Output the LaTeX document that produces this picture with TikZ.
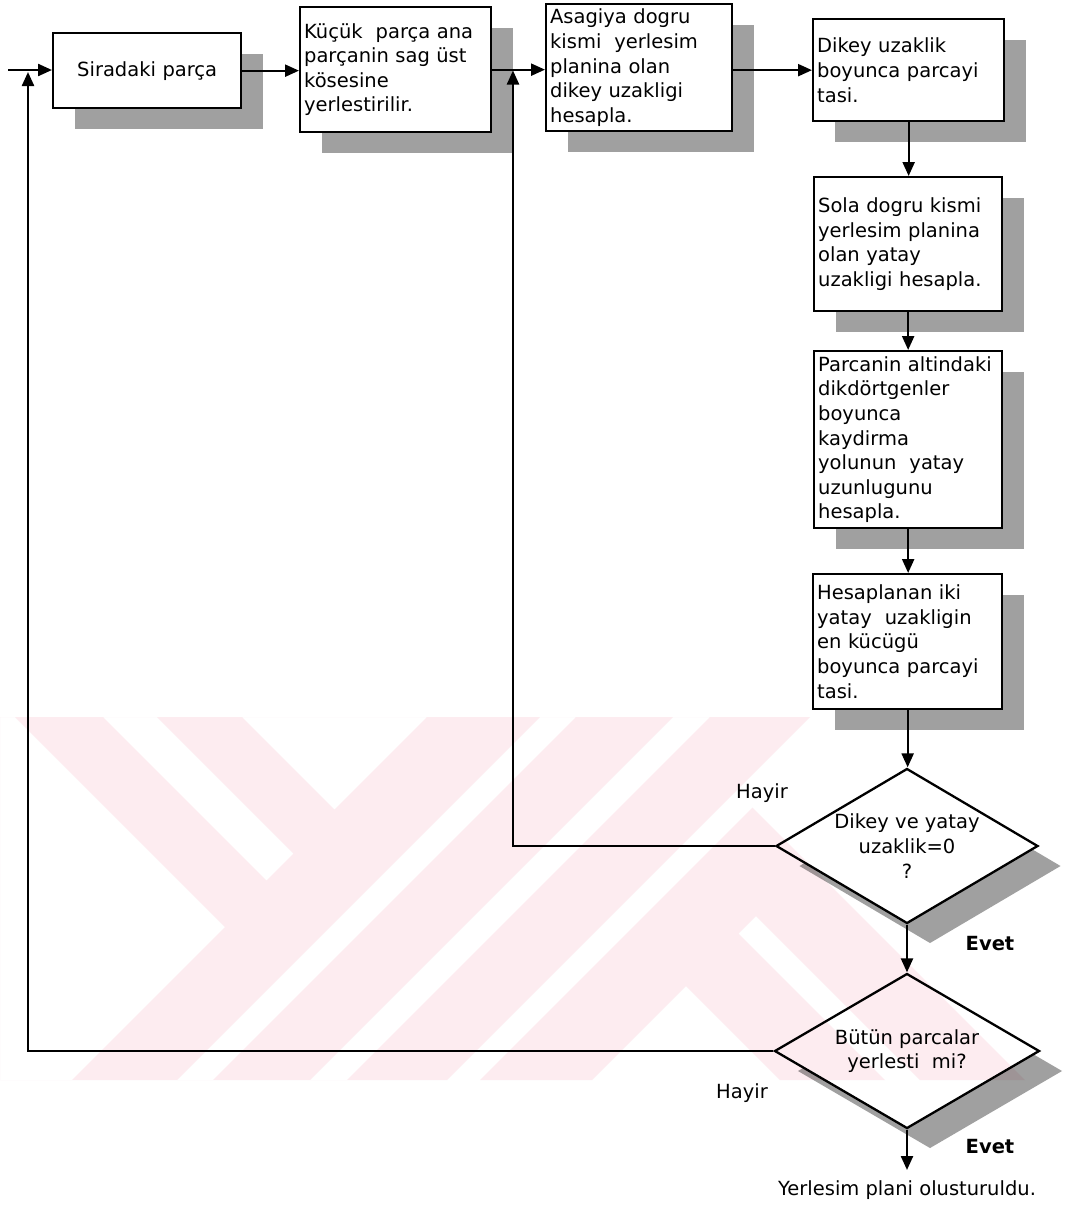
\documentclass[tikz,border=0pt]{standalone}
\usepackage{fontspec}
\setmainfont{DejaVu Sans}
\usetikzlibrary{arrows.meta,shapes.geometric,shadows,calc}
\definecolor{wmpink}{RGB}{253,236,240}
\definecolor{shadowgray}{RGB}{160,160,160}
\newcommand{\flowfont}{\fontsize{19.5}{24.6}\selectfont}
\begin{document}
\begin{tikzpicture}[x=1pt,y=-1pt,
  conn/.style={line width=2.3pt,-{Triangle[length=14pt,width=12pt]}},
  stepbox/.style={draw,line width=2.3pt,fill=white,font=\flowfont,align=left,
    inner xsep=4pt,inner ysep=0pt,anchor=north west,
    drop shadow={shadow xshift=22pt,shadow yshift=-21pt,fill=shadowgray,opacity=1}},
  decision/.style={diamond,draw,line width=2.3pt,fill=white,font=\flowfont,
    align=center,inner sep=0pt,aspect=1.69,
    drop shadow={shadow xshift=23pt,shadow yshift=-20pt,fill=shadowgray,opacity=1}},
  lbl/.style={font=\flowfont,inner sep=0pt}]

\useasboundingbox (0,0) rectangle (1065,1208);
\fill[white] (0,0) rectangle (1065,1208);

% process steps
\node[stepbox,text width=180pt,minimum height=75pt,align=center] (b1) at (52,32) {Siradaki parça};
\node[stepbox,text width=183pt,minimum height=125pt] (b2) at (299,6)
  {Küçük\ \ parça ana\\parçanin sag üst\\kösesine\\yerlestirilir.};
\node[stepbox,text width=178pt,minimum height=127pt] (b3) at (545,3)
  {Asagiya dogru\\kismi\ \ yerlesim\\planina olan\\dikey uzakligi\\hesapla.};
\node[stepbox,text width=183pt,minimum height=102pt] (b4) at (812,18)
  {Dikey uzaklik\\boyunca parcayi\\tasi.};
\node[stepbox,text width=180pt,minimum height=134pt] (b5) at (813,176)
  {Sola dogru kismi\\yerlesim planina\\olan yatay\\uzakligi hesapla.};
\node[stepbox,text width=180pt,minimum height=177pt] (b6) at (813,350)
  {Parcanin altindaki\\dikdörtgenler\\boyunca\\kaydirma\\yolunun\ \ yatay\\uzunlugunu\\hesapla.};
\node[stepbox,text width=181pt,minimum height=135pt] (b7) at (812,573)
  {Hesaplanan iki\\yatay\ \ uzakligin\\en kücügü\\boyunca parcayi\\tasi.};

% decisions
\node[decision,minimum width=262pt,minimum height=155pt] (d1) at (907,846)
  {Dikey ve yatay\\uzaklik=0\\?};
\node[decision,minimum width=265pt,minimum height=155pt] (d2) at (907,1051)
  {Bütün parcalar\\yerlesti\ \ mi?};

% junction points and free ends
\coordinate (entry) at (8,70);
\coordinate (join1) at (28,72);
\coordinate (join2) at (513,70.5);
\coordinate (endpt) at (907,1170);

% main flow
\draw[conn] (entry) -- (entry -| b1.west);
\draw[conn] (b1.east) -- (b1.east -| b2.west);
\draw[conn] (b2.east) -- (b2.east -| b3.west);
\draw[conn] (b4.west -| b3.east) -- (b4.west);
\draw[conn] (b4.south) -- (b4.south |- b5.north);
\draw[conn] (b5.south) -- (b5.south |- b6.north);
\draw[conn] (b6.south) -- (b6.south |- b7.north);
\draw[conn] (b7.south) -- (b7.south |- d1.north);
\draw[conn] (d1.south) -- (d2.north);
\draw[conn] (d2.south) -- (endpt);

% feedback loops
\draw[conn] (d1.west) -| (join2);
\draw[conn] (d2.west) -| (join1);

% branch labels and result
\node[lbl] (no1) at (762,793) {Hayir};
\node[lbl,font=\flowfont\bfseries] (yes1) at (990,944) {Evet};
\node[lbl] (no2) at (742,1093) {Hayir};
\node[lbl,font=\flowfont\bfseries] (yes2) at (990,1147) {Evet};
\node[lbl] (done) at (907,1190) {Yerlesim plani olusturuldu.};

% pale logo stamped over the lower part
\begin{scope}[blend mode=multiply]
  \fill[wmpink,even odd rule]
    (0,717) -- (810,717) -- (447,1080) -- (0,1080) -- cycle
    (0,717) -- (15,717) -- (225,927) -- (72,1080) -- (0,1080) -- cycle
    (103,717) -- (157,717) -- (293.5,853.5) -- (266.5,880.5) -- cycle
    (242,717) -- (427,717) -- (334.5,809.5) -- cycle
    (540,717) -- (576,717) -- (213,1080) -- (177,1080) -- cycle
    (673,717) -- (710,717) -- (347,1080) -- (310,1080) -- cycle;
  \fill[wmpink]
    (480,1080) -- (752.5,807.5) -- (1025,1080) -- (920,1080) -- (756,916)
    -- (738.5,933.5) -- (885,1080) -- (780,1080) -- (686,986) -- (592,1080) -- cycle;
\end{scope}
\end{tikzpicture}
\end{document}
